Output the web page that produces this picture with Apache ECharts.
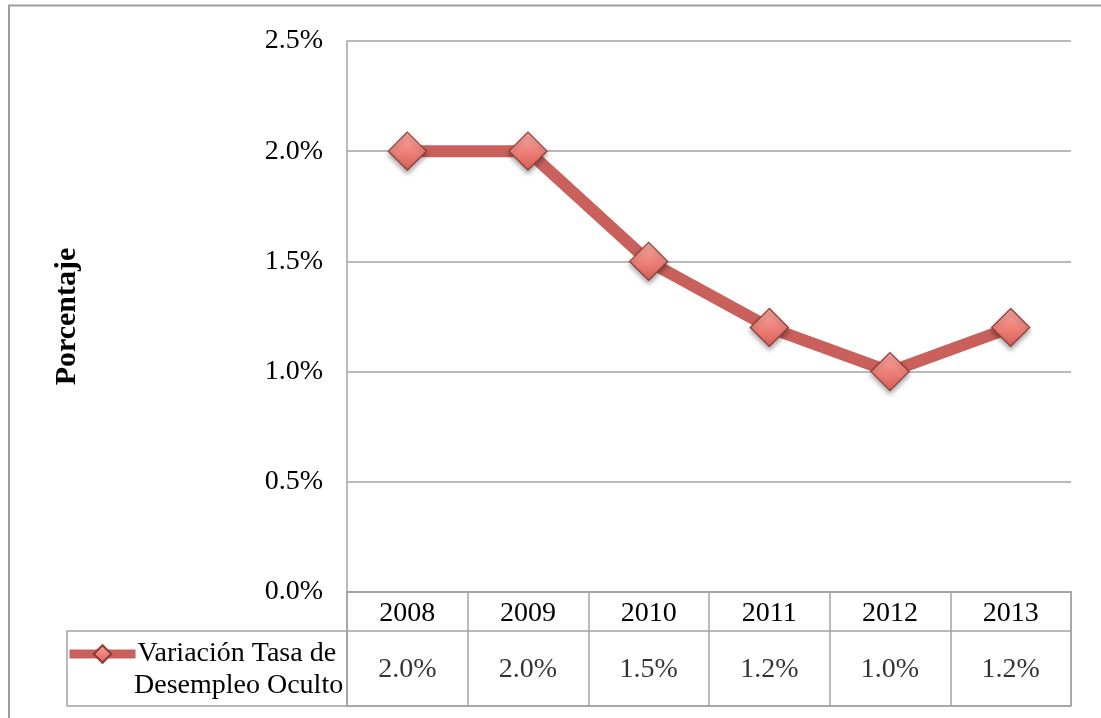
<!DOCTYPE html>
<html>
<head>
<meta charset="utf-8">
<script src="https://cdn.jsdelivr.net/npm/echarts@6/dist/echarts.min.js"></script>
<style>
html,body{margin:0;padding:0;background:#fff;}
#chart{width:1101px;height:718px;}
</style>
</head>
<body>
<div id="chart"></div>
<script>
// ---- data ----
const years = ['2008', '2009', '2010', '2011', '2012', '2013'];
const values = [2.0, 2.0, 1.5, 1.2, 1.0, 1.2];
const yTicks = [0, 0.5, 1.0, 1.5, 2.0, 2.5];
const legendLines = ['Variación Tasa de', 'Desempleo Oculto'];
const yAxisTitle = 'Porcentaje';
// ---------------

const seriesName = legendLines.join(' ');
const FONT = '"Liberation Serif", "DejaVu Serif", serif';
const GRAY = '#a3a3a3';
const fmt = v => v.toFixed(1) + '%';

const chart = echarts.init(document.getElementById('chart'), null, {renderer: 'canvas'});

const option = {
  backgroundColor: '#fff',
  animation: false,
  textStyle: {fontFamily: FONT},
  grid: [
    {left: 347, right: 30, top: 41, bottom: 126},
    {left: 347, right: 30, top: 592, bottom: 12, show: true, borderColor: GRAY, borderWidth: 1.5},
    {left: 67, width: 280, top: 631, bottom: 12, show: true, borderColor: GRAY, borderWidth: 1.5}
  ],
  xAxis: [
    {
      gridIndex: 0, type: 'category', data: years, boundaryGap: true,
      axisLine: {show: true, lineStyle: {color: GRAY, width: 1.5}},
      axisTick: {show: false},
      axisLabel: {color: '#000', fontFamily: FONT, fontSize: 28, margin: 8},
      splitLine: {show: false}
    },
    {
      gridIndex: 1, type: 'category', data: years, boundaryGap: true,
      axisLine: {show: false}, axisTick: {show: false}, axisLabel: {show: false},
      splitLine: {show: true, lineStyle: {color: GRAY, width: 1.5}}
    },
    {
      gridIndex: 2, type: 'value', min: 0, max: 1, show: false
    }
  ],
  yAxis: [
    {
      gridIndex: 0, type: 'value', min: yTicks[0], max: yTicks[yTicks.length - 1], interval: 0.5,
      axisLine: {show: true, lineStyle: {color: GRAY, width: 1.5}},
      axisTick: {show: false},
      axisLabel: {color: '#000', fontFamily: FONT, fontSize: 28, margin: 24, formatter: v => fmt(v)},
      splitLine: {show: true, lineStyle: {color: GRAY, width: 1.5}},
      name: yAxisTitle, nameLocation: 'middle', nameGap: 265, nameRotate: 90,
      nameTextStyle: {color: '#000', fontFamily: FONT, fontSize: 30, fontWeight: 'bold'}
    },
    {
      gridIndex: 1, type: 'value', min: 0, max: 114, interval: 75,
      axisLine: {show: false}, axisTick: {show: false}, axisLabel: {show: false},
      splitLine: {show: true, lineStyle: {color: GRAY, width: 1.5}}
    },
    {
      gridIndex: 2, type: 'value', min: 0, max: 1, show: false
    }
  ],
  legend: {
    data: [seriesName],
    left: 65, top: 638, padding: 0,
    itemWidth: 66, itemHeight: 22, itemGap: 4,
    formatter: () => legendLines[0],
    textStyle: {color: '#000', fontFamily: FONT, fontSize: 28, lineHeight: 32, padding: [0, 0, 0, -3]},
    lineStyle: {width: 9},
    selectedMode: false
  },
  graphic: [
    {type: 'rect', shape: {x: 9, y: 5.5, width: 1200, height: 800}, style: {fill: 'none', stroke: '#9d9d9d', lineWidth: 2}, silent: true, z: -10},
    {type: 'text', left: 134, top: 672, style: {text: legendLines[1], fontFamily: FONT, fontSize: 28, fill: '#000'}, silent: true}
  ],
  series: [
    {
      name: seriesName,
      type: 'line',
      xAxisIndex: 0, yAxisIndex: 0,
      data: values,
      lineStyle: {color: '#C9605B', width: 12},
      symbol: 'diamond', symbolSize: 38,
      itemStyle: {
        color: new echarts.graphic.LinearGradient(0, 0, 0, 1, [
          {offset: 0, color: '#F8AAA4'},
          {offset: 0.5, color: '#EE827B'},
          {offset: 1, color: '#D65E57'}
        ]),
        borderColor: '#8C3A36', borderWidth: 1.2,
        shadowColor: 'rgba(0,0,0,0.35)', shadowBlur: 5, shadowOffsetY: 3
      },
      z: 3
    },
    {
      name: 'tableValues',
      type: 'scatter',
      xAxisIndex: 1, yAxisIndex: 1,
      data: values.map((v, i) => [i, 36]),
      symbolSize: 1,
      itemStyle: {color: 'rgba(0,0,0,0)'},
      label: {
        show: true, position: 'inside',
        formatter: p => fmt(values[p.dataIndex]),
        color: '#000', fontFamily: FONT, fontSize: 28
      },
      silent: true
    }
  ]
};

chart.setOption(option);
</script>
</body>
</html>
